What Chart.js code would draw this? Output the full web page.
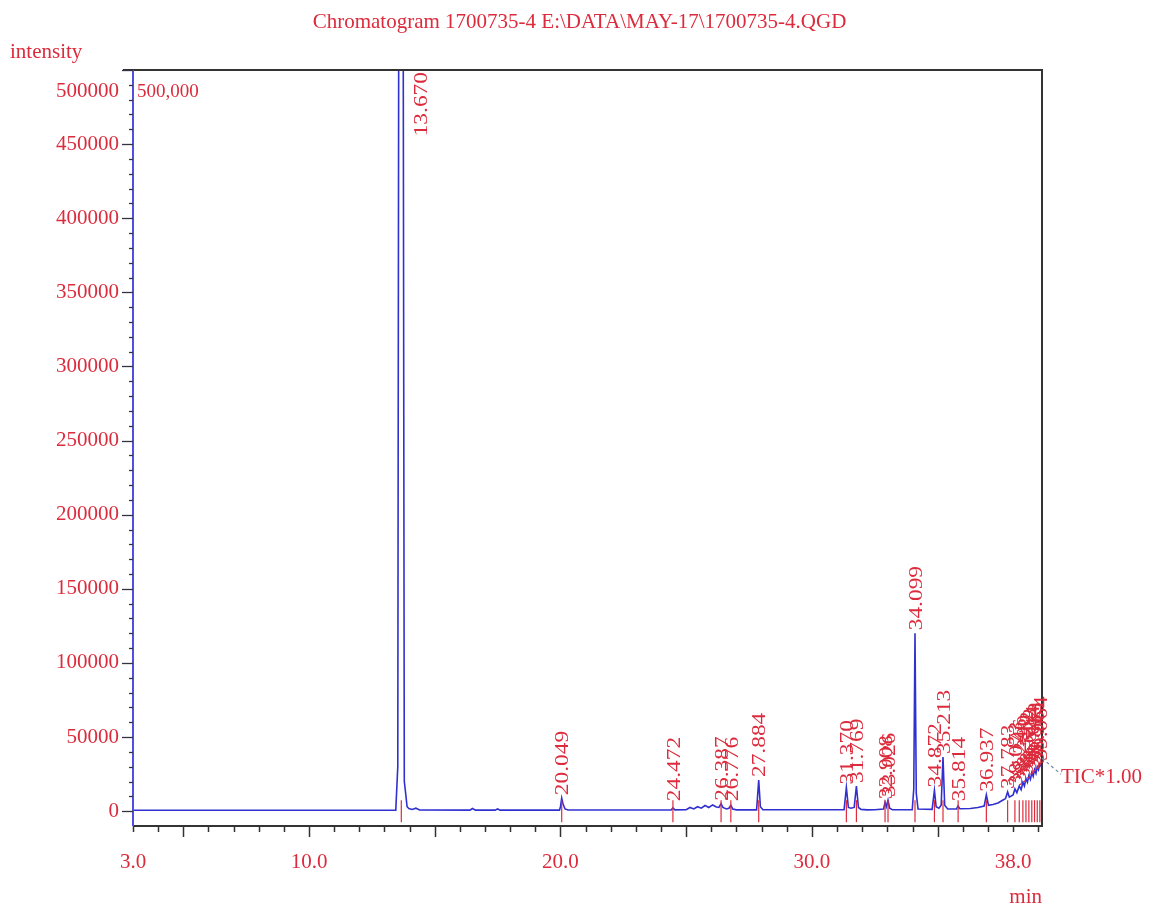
<!DOCTYPE html>
<html><head><meta charset="utf-8">
<script src="https://cdn.jsdelivr.net/npm/chart.js@4.4.0/dist/chart.umd.min.js"></script>
<style>html,body{margin:0;padding:0;background:#fff;overflow:hidden}canvas{display:block}</style>
</head><body>
<canvas id="c" width="1153" height="907"></canvas>
<script>
const chartTitle = 'Chromatogram 1700735-4 E:\\DATA\\MAY-17\\1700735-4.QGD';
const yAxisTitle = 'intensity';
const xAxisTitle = 'min';
const seriesName = 'TIC*1.00';

const retentionTimes = [
  3.00, 13.45, 13.53, 13.58, 13.67, 13.74, 13.79, 13.85, 13.90, 13.97, 14.10, 14.25, 14.40,
  16.40, 16.50, 16.62, 17.40, 17.50, 17.60,
  19.96, 20.00, 20.049, 20.10, 20.18, 20.30,
  24.40, 24.472, 24.55,
  25.00, 25.15, 25.30, 25.45, 25.60, 25.75, 25.90, 26.05, 26.20, 26.30, 26.387, 26.46, 26.60, 26.70, 26.776, 26.85, 27.00,
  27.80, 27.884, 27.95, 28.05,
  31.28, 31.370, 31.45, 31.55, 31.68, 31.769, 31.85, 31.95,
  32.20, 32.50, 32.85, 32.908, 32.96, 33.026, 33.09, 33.20,
  33.99, 34.05, 34.099, 34.15, 34.22,
  34.78, 34.872, 34.94, 35.05, 35.14, 35.213, 35.28, 35.40,
  35.75, 35.814, 35.88,
  36.30, 36.60, 36.85, 36.937, 37.02, 37.20, 37.40, 37.60, 37.70, 37.783, 37.85,
  38.00, 38.073, 38.15, 38.246, 38.32, 38.390, 38.45, 38.512, 38.57, 38.628, 38.69, 38.744, 38.80, 38.853, 38.91, 38.961, 39.01, 39.064, 39.11, 39.15
];
const intensities = [
  600, 700, 30000, 700000, 1400000, 600000, 20000, 11000, 3000, 1800, 1200, 2000, 800,
  700, 1800, 700, 700, 1500, 700,
  700, 3000, 8800, 5000, 1500, 800,
  800, 2200, 900,
  1000, 2500, 1500, 3000, 2000, 3800, 2500, 4200, 2800, 2500, 5000, 2500, 1500, 2000, 4000, 1500, 900,
  900, 21000, 3000, 1000,
  1000, 16000, 2500, 2000, 2500, 17000, 2500, 1200,
  900, 1000, 1500, 6000, 3000, 7500, 2000, 1000,
  1000, 15000, 120000, 12000, 1500,
  1200, 14000, 3000, 2000, 4000, 36500, 4000, 1500,
  1500, 3500, 1600,
  1800, 2500, 3500, 11000, 4000, 4500, 5500, 7500, 8500, 13000, 9500,
  11000, 15000, 12500, 17000, 14500, 19500, 17000, 22000, 19500, 24000, 21500, 26000, 23500, 28000, 25500, 30000, 28000, 32000, 30500, 33000
];

const peakTimes = [13.670, 20.049, 24.472, 26.387, 26.776, 27.884, 31.370, 31.769, 32.908, 33.026, 34.099, 34.872, 35.213, 35.814, 36.937, 37.783, 38.073, 38.246, 38.390, 38.512, 38.628, 38.744, 38.853, 38.961, 39.064];
const peakLabels = ['13.670', '20.049', '24.472', '26.387', '26.776', '27.884', '31.370', '31.769', '32.908', '33.026', '34.099', '34.872', '35.213', '35.814', '36.937', '37.783', '38.073', '38.246', '38.390', '38.512', '38.628', '38.744', '38.853', '38.961', '39.064'];

const xTickValues = [3, 10, 20, 30, 38];
const xTickLabels = ['3.0', '10.0', '20.0', '30.0', '38.0'];
const yTickValues = [0, 50000, 100000, 150000, 200000, 250000, 300000, 350000, 400000, 450000, 500000];
const yTickLabels = ['0', '50000', '100000', '150000', '200000', '250000', '300000', '350000', '400000', '450000', '500000'];
const fullScaleLabel = '500,000';
const xRange = [3.0, 39.15];
const yRange = [-10000, 500000];

const RED = '#dc2b3c';
const BLUE = '#3030d0';
const SERIF = '"Liberation Serif", "DejaVu Serif", serif';

const points = retentionTimes.map((t, i) => ({x: t, y: intensities[i]}));
const markers = peakTimes.map(t => ({x: t, y: 0}));

function apexOf(t) {
  let best = 0, d = Infinity;
  retentionTimes.forEach((rt, i) => { const dd = Math.abs(rt - t); if (dd < d) { d = dd; best = i; } });
  return intensities[best];
}

const decor = {
  id: 'decor',
  afterDatasetsDraw(chart) {
    const ctx = chart.ctx, a = chart.chartArea;
    const xs = chart.scales.x, ys = chart.scales.y;
    ctx.save();
    // frame
    ctx.lineWidth = 2;
    ctx.strokeStyle = '#333';
    ctx.beginPath();
    ctx.moveTo(a.left - 10, a.top); ctx.lineTo(a.right, a.top); ctx.lineTo(a.right, a.bottom); ctx.lineTo(a.left, a.bottom);
    ctx.stroke();
    ctx.strokeStyle = '#5050e0';
    ctx.beginPath(); ctx.moveTo(a.left, a.top); ctx.lineTo(a.left, a.bottom); ctx.stroke();
    // x ticks
    ctx.strokeStyle = '#333'; ctx.lineWidth = 1.5;
    for (let v = Math.ceil(xRange[0]); v <= Math.floor(xRange[1]); v++) {
      const px = Math.round(xs.getPixelForValue(v)) + 0.5;
      const len = v % 5 === 0 ? 11 : 6;
      ctx.beginPath(); ctx.moveTo(px, a.bottom); ctx.lineTo(px, a.bottom + len); ctx.stroke();
    }
    // y ticks
    ctx.strokeStyle = '#334'; ctx.lineWidth = 1.3;
    for (let v = 0; v <= yRange[1]; v += 10000) {
      const py = Math.round(ys.getPixelForValue(v)) + 0.5;
      const len = v % 50000 === 0 ? 11 : 4;
      ctx.beginPath(); ctx.moveTo(a.left - len, py); ctx.lineTo(a.left, py); ctx.stroke();
    }
    // texts
    ctx.fillStyle = RED;
    ctx.textBaseline = 'middle';
    ctx.font = '21px ' + SERIF;
    ctx.textAlign = 'center';
    ctx.fillText(chartTitle, chart.width / 2 + 3, 22);
    ctx.textAlign = 'left';
    ctx.fillText(yAxisTitle, 10, 52);
    ctx.font = '19px ' + SERIF;
    ctx.fillText(fullScaleLabel, a.left + 4, ys.getPixelForValue(yRange[1]) + 22);
    // peak labels
    const zeroPx = ys.getPixelForValue(0);
    const stretch = 1.3;
    ctx.font = '18px ' + SERIF;
    peakTimes.forEach((t, i) => {
      let px = xs.getPixelForValue(t) + 2;
      const apexPx = ys.getPixelForValue(apexOf(t));
      const len = ctx.measureText(peakLabels[i]).width * stretch;
      let yb = Math.min(apexPx - 3, zeroPx - 10);
      if (yb - len < a.top) { yb = a.top + len + 2; px += 19; }
      ctx.save();
      ctx.translate(px, yb);
      ctx.rotate(-Math.PI / 2);
      ctx.scale(stretch, 1);
      ctx.textAlign = 'left'; ctx.textBaseline = 'middle';
      ctx.fillText(peakLabels[i], 0, 0);
      ctx.restore();
    });
    // series tag
    const last = points[points.length - 1];
    const lx = xs.getPixelForValue(last.x), ly = ys.getPixelForValue(last.y);
    ctx.strokeStyle = '#7788aa'; ctx.lineWidth = 1.2; ctx.setLineDash([3, 3]);
    ctx.beginPath(); ctx.moveTo(lx, ly - 4); ctx.lineTo(lx + 19, ly + 12); ctx.stroke();
    ctx.setLineDash([]);
    ctx.font = '21px ' + SERIF;
    ctx.fillText(seriesName, lx + 19, ly + 15);
    ctx.restore();
  }
};

new Chart(document.getElementById('c').getContext('2d'), {
  type: 'line',
  data: {datasets: [
    {label: seriesName, data: points, borderColor: BLUE, borderWidth: 1.6, pointRadius: 0, tension: 0, fill: false, order: 1},
    {label: 'peaks', data: markers, showLine: false, pointStyle: 'line', rotation: 90, pointRadius: 11,
     borderColor: RED, pointBorderColor: RED, pointBorderWidth: 1.2, order: 0}
  ]},
  options: {
    responsive: false, animation: false, devicePixelRatio: 1,
    layout: {padding: {left: 0, right: 111, top: 70, bottom: 0}},
    plugins: {legend: {display: false}, tooltip: {enabled: false}, title: {display: false}},
    scales: {
      x: {
        type: 'linear', min: xRange[0], max: xRange[1],
        grid: {display: false, drawTicks: false}, border: {display: false},
        afterBuildTicks: s => { s.ticks = xTickValues.map(v => ({value: v})); },
        ticks: {autoSkip: false, maxRotation: 0, padding: 24, color: RED, font: {family: SERIF, size: 21},
          callback: v => { const i = xTickValues.indexOf(v); return i >= 0 ? xTickLabels[i] : ''; }},
        title: {display: true, text: xAxisTitle, align: 'end', color: RED, font: {family: SERIF, size: 21}, padding: {top: 0, bottom: -3}},
        afterFit: s => { s.height = 81; }
      },
      y: {
        type: 'linear', min: yRange[0], max: yRange[1],
        grid: {display: false, drawTicks: false}, border: {display: false},
        afterBuildTicks: s => { s.ticks = yTickValues.map(v => ({value: v})); },
        ticks: {autoSkip: false, padding: 14, color: RED, font: {family: SERIF, size: 21, lineHeight: 1},
          callback: v => { const i = yTickValues.indexOf(v); if (i < 0) return ''; return v === yRange[1] ? ['', '', yTickLabels[i]] : yTickLabels[i]; }},
        afterFit: s => { s.width = 133; }
      }
    }
  },
  plugins: [decor]
});
</script>
</body></html>
